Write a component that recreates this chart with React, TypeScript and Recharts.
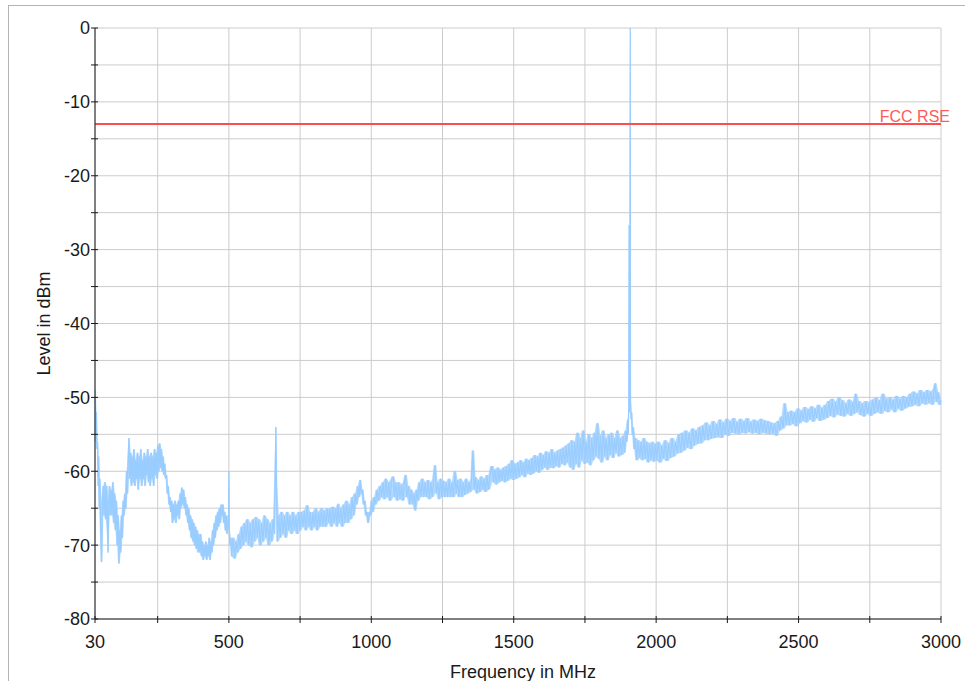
import { Area, CartesianGrid, ComposedChart, Line, ReferenceLine, XAxis, YAxis } from "recharts"

const FONT = '"Liberation Sans", Arial, sans-serif'
const TRACE = "#99ccff" // light blue
const LIMIT = "#ff4d4d"
const GRID = "#cccccc"
const INK = "#1a1a1a"

const X_TICKS = [30, 250, 500, 750, 1000, 1250, 1500, 1750, 2000, 2250, 2500, 2750, 3000]
const X_LABELS = [30, 500, 1000, 1500, 2000, 2500, 3000]
const Y_TICKS = [-80, -75, -70, -65, -60, -55, -50, -45, -40, -35, -30, -25, -20, -15, -10, -5, 0]
const Y_LABELS = [-80, -70, -60, -50, -40, -30, -20, -10, 0]

const FCC_RSE_NAME = "FCC RSE"
const FCC_RSE_LEVEL = -13

// [MHz, dBm], segment by segment
const TRACE_30_510: [number, number][] = [
  [30, -56], [31, -49], [33, -55], [35, -52], [37, -57], [39, -56], [41, -62], [43, -58], [45, -65], [47, -61],
  [50, -68], [53, -72.3], [56, -64], [59, -62], [62, -66], [65, -61.5], [68, -66.5], [71, -62], [74, -68], [76, -71],
  [78, -64], [81, -62], [84, -66], [87, -62.5], [90, -66], [93, -61.5], [96, -67], [99, -63], [102, -68], [105, -64],
  [108, -70], [111, -66], [114, -72.5], [117, -68], [120, -71], [123, -66], [126, -69], [129, -64], [132, -66], [135, -63],
  [138, -65], [141, -60], [144, -63], [147, -58], [149, -55.5], [152, -61], [155, -57.5], [158, -62], [161, -58], [164, -61.5],
  [167, -57], [170, -62], [173, -58.5], [176, -61], [179, -57.5], [182, -62.5], [185, -58], [188, -61], [191, -57], [194, -62],
  [197, -58.5], [200, -61], [203, -57.5], [206, -62], [209, -58], [212, -60.5], [215, -57], [218, -61.5], [221, -58], [224, -62],
  [227, -57.5], [230, -61], [233, -58], [236, -62], [239, -57], [242, -60.5], [245, -57.5], [248, -61], [251, -56.5], [254, -60],
  [257, -56.2], [260, -59.5], [263, -57], [266, -60], [269, -58], [272, -60.5], [275, -59], [278, -61], [281, -60.5], [284, -63],
  [287, -62], [290, -64.5], [293, -63.5], [296, -65.5], [299, -64], [302, -67], [305, -64.5], [308, -66.5], [311, -64], [314, -67],
  [317, -64.5], [320, -66], [323, -64], [326, -66.5], [329, -63], [332, -65], [335, -62.2], [338, -64.5], [341, -62.5], [344, -65],
  [347, -63.5], [350, -66], [353, -64.5], [356, -67], [359, -65], [362, -68], [365, -66], [368, -69], [371, -66.5], [374, -69.5],
  [377, -67], [380, -70], [383, -67.5], [386, -70.5], [389, -68], [392, -71], [395, -68.5], [398, -71], [401, -68.5], [404, -71.5],
  [407, -69.5], [410, -72], [413, -70], [416, -71.5], [419, -69.5], [422, -72], [425, -70], [428, -71.5], [431, -69], [434, -72],
  [437, -69.5], [440, -71], [443, -68], [446, -70], [449, -67], [452, -69], [455, -66], [458, -68], [461, -65.5], [464, -67.5],
  [467, -65], [470, -67], [473, -64.5], [476, -66], [479, -64.5], [482, -67], [485, -65.5], [488, -68], [491, -66], [494, -68.5],
  [497, -67], [499, -66], [500, -60], [501, -68], [504, -70], [507, -69],
]

const TRACE_510_1035: [number, number][] = [
  [510, -71.5], [515, -69], [520, -71.8], [525, -69.5], [530, -71], [535, -68.5], [540, -70.5], [545, -67.5], [550, -70], [555, -67],
  [560, -69.5], [565, -66.5], [570, -70], [575, -67], [580, -70.3], [585, -66.5], [590, -69.5], [595, -66.2], [600, -69], [605, -66.5],
  [610, -70], [615, -67], [620, -69.5], [625, -66], [630, -69], [635, -66.5], [640, -70], [645, -67], [650, -69.5], [655, -66.5],
  [660, -68.5], [663, -60], [665, -54], [667, -62], [670, -69.5], [675, -66], [680, -69], [685, -65.5], [690, -68.5], [695, -66],
  [700, -69], [705, -65.5], [710, -68], [715, -66], [720, -68.5], [725, -65.5], [730, -68], [735, -66], [740, -68.5], [745, -65.5],
  [750, -68], [755, -65.5], [760, -67.5], [765, -65.3], [770, -68], [775, -64.6], [780, -67.5], [785, -65.5], [790, -68], [795, -65.5],
  [800, -67.5], [805, -65], [810, -68], [815, -65.5], [820, -67.5], [825, -65], [830, -67.5], [835, -65.3], [840, -67.5], [845, -65],
  [850, -67], [855, -65], [860, -67.5], [865, -64.8], [870, -67], [875, -65], [880, -67.5], [883, -64.4], [888, -67], [893, -65],
  [898, -67.5], [903, -64.5], [908, -67], [913, -64], [918, -67], [923, -64.5], [928, -66.5], [933, -63.5], [938, -66], [943, -63],
  [948, -64.5], [953, -62], [957, -63.5], [961, -61.2], [965, -63], [969, -62.5], [973, -64.5], [977, -64], [981, -66], [985, -65.5],
  [989, -67], [993, -65.5], [997, -66], [1001, -64], [1005, -65.5], [1010, -63.5], [1015, -64.5], [1020, -62.5], [1025, -64], [1031, -62],
]

const TRACE_1035_1500: [number, number][] = [
  [1036, -63.5], [1041, -61.5], [1046, -63.8], [1051, -61], [1056, -63.5], [1061, -61.5], [1066, -64], [1071, -61.2], [1077, -60.7], [1081, -63.5],
  [1086, -61.5], [1091, -64], [1096, -61.5], [1101, -63.8], [1106, -61.8], [1111, -64], [1116, -61.5], [1120, -60.5], [1125, -63.5], [1130, -62],
  [1135, -64.5], [1140, -62.5], [1145, -64.5], [1150, -63], [1154, -65.3], [1159, -62.5], [1164, -64], [1169, -61.5], [1174, -63.5], [1179, -61],
  [1184, -63.5], [1189, -61.5], [1194, -63.5], [1199, -61.2], [1204, -63.8], [1209, -61.5], [1214, -63.5], [1219, -61], [1224, -59.2], [1228, -63],
  [1233, -61.5], [1238, -63.8], [1243, -61], [1248, -63.5], [1253, -61.3], [1258, -63.5], [1263, -61.5], [1268, -63.5], [1273, -61], [1278, -63.5],
  [1283, -61.5], [1288, -63.5], [1294, -60], [1298, -63], [1303, -61.2], [1308, -63.5], [1313, -61], [1318, -63.5], [1323, -61.5], [1328, -63.2],
  [1333, -61], [1338, -63], [1343, -61.5], [1348, -62.8], [1352, -61], [1357, -57.2], [1361, -62.5], [1366, -60.8], [1371, -63], [1376, -61.2],
  [1381, -62.8], [1386, -60.7], [1391, -62.5], [1396, -61], [1401, -62.8], [1406, -60.5], [1411, -62.5], [1417, -60.5], [1424, -59.3], [1429, -61.5],
  [1434, -59.8], [1439, -61.8], [1444, -59.5], [1449, -61.5], [1454, -59.8], [1459, -61.3], [1464, -59.5], [1469, -61.5], [1474, -59.3], [1479, -61.3],
  [1484, -59], [1489, -61], [1494, -58.5], [1499, -61.2],
]

const TRACE_1500_2000: [number, number][] = [
  [1504, -59], [1509, -61], [1514, -58.8], [1519, -60.8], [1524, -58.5], [1529, -60.5], [1534, -58.8], [1539, -60.8], [1544, -58.3], [1549, -60.3],
  [1554, -58.5], [1559, -60.5], [1564, -58.2], [1569, -60.3], [1574, -57.8], [1579, -60], [1584, -58], [1589, -60.2], [1594, -57.5], [1599, -59.8],
  [1604, -57.8], [1609, -59.5], [1614, -57.3], [1619, -59.8], [1624, -57.5], [1629, -59.5], [1634, -57], [1639, -59.6], [1644, -57.5], [1649, -59.3],
  [1654, -57.2], [1659, -59.5], [1664, -57], [1669, -59], [1674, -56.8], [1679, -59.2], [1684, -56.5], [1689, -58.8], [1694, -56.2], [1699, -59.5],
  [1704, -55.8], [1709, -59.8], [1714, -56], [1719, -59], [1724, -54.8], [1729, -59.5], [1734, -55.5], [1739, -58.5], [1744, -54.5], [1749, -59],
  [1754, -56], [1759, -58.8], [1764, -55], [1769, -59.2], [1774, -55.5], [1779, -58.5], [1784, -54.8], [1789, -58], [1794, -53.5], [1799, -58.3],
  [1804, -55.2], [1809, -58.8], [1814, -54.5], [1819, -58], [1824, -55.5], [1829, -58.5], [1834, -55], [1839, -57.8], [1844, -54.8], [1849, -58.2],
  [1854, -55.5], [1859, -57.5], [1864, -54.5], [1869, -58], [1874, -55.5], [1879, -57.8], [1884, -55.2], [1889, -57.5], [1893, -54.5], [1897, -56],
  [1900, -53], [1902, -55], [1904, -51.5], [1905, -26.7], [1906, -52], [1908, -50], [1909, 0], [1910, -50.5], [1912, -53], [1914, -52],
  [1916, -55], [1919, -54], [1923, -57], [1927, -55.5], [1932, -58.5], [1937, -55.8], [1942, -58.2], [1947, -56], [1952, -58.5], [1957, -55.5],
  [1962, -58.3], [1967, -56], [1972, -58.8], [1977, -56.2], [1982, -58.5], [1987, -56], [1992, -58.7], [1997, -56.3],
]

const TRACE_2000_3000: [number, number][] = [
  [2002, -58.5], [2008, -56], [2014, -58.8], [2020, -56.5], [2026, -58.3], [2032, -55.8], [2038, -58.6], [2044, -56.2], [2050, -58.2], [2056, -55.5],
  [2062, -58], [2068, -56], [2074, -57.6], [2080, -55], [2086, -57.5], [2092, -54.8], [2098, -57.2], [2104, -54.5], [2110, -56.8], [2116, -54.8],
  [2122, -57], [2128, -54.2], [2134, -56.5], [2140, -54.5], [2146, -56.3], [2152, -54], [2158, -56.2], [2164, -53.8], [2170, -55.8], [2176, -53.4],
  [2182, -55.8], [2188, -53.8], [2194, -55.6], [2200, -53.2], [2206, -55.5], [2212, -53.6], [2218, -55.4], [2224, -53], [2230, -55.5], [2236, -53.4],
  [2242, -55], [2248, -52.9], [2254, -55.2], [2260, -53.2], [2266, -54.8], [2272, -52.8], [2278, -54.9], [2284, -53.3], [2290, -55], [2296, -52.9],
  [2302, -54.8], [2308, -53.2], [2314, -54.9], [2320, -52.8], [2326, -54.7], [2332, -53.3], [2338, -54.9], [2344, -53], [2350, -54.8], [2356, -53.2],
  [2362, -55], [2368, -52.9], [2374, -54.8], [2380, -53.1], [2386, -54.9], [2392, -53.2], [2398, -55], [2404, -53.4], [2410, -54.9], [2416, -53.5],
  [2422, -55.2], [2428, -53.2], [2434, -54.5], [2440, -52.6], [2446, -54.2], [2452, -50.8], [2456, -53.8], [2462, -52], [2468, -53.8], [2474, -51.8],
  [2480, -53.6], [2486, -52], [2492, -53.9], [2498, -51.5], [2504, -53.5], [2510, -51.8], [2516, -53.2], [2522, -51.3], [2528, -53.4], [2534, -51.6],
  [2540, -53], [2546, -51.2], [2552, -53.3], [2558, -51.5], [2564, -52.8], [2570, -51], [2576, -53.2], [2582, -51.4], [2588, -53], [2594, -51],
  [2600, -52.8], [2606, -50.5], [2612, -52.5], [2618, -50.2], [2624, -52.7], [2630, -50.6], [2636, -52.3], [2642, -50], [2648, -52.5], [2654, -50.4],
  [2660, -52.6], [2666, -50.8], [2672, -52.2], [2678, -50.3], [2684, -52.5], [2690, -50.6], [2696, -52.2], [2700, -49.5], [2706, -52], [2712, -50.5],
  [2718, -52.4], [2724, -50.8], [2730, -52.6], [2736, -50.5], [2742, -52.2], [2748, -50.7], [2754, -52.5], [2760, -50.3], [2766, -52.2], [2772, -50],
  [2778, -52], [2784, -50.4], [2790, -52.2], [2797, -49.5], [2802, -51.8], [2808, -50.2], [2814, -52], [2820, -50], [2826, -51.6], [2832, -50.3],
  [2838, -52], [2844, -49.8], [2850, -51.5], [2856, -50.2], [2862, -51.8], [2868, -49.8], [2874, -51.5], [2880, -50], [2886, -51.3], [2892, -49.5],
  [2898, -51.2], [2904, -49.2], [2910, -51], [2916, -49.5], [2922, -51.2], [2928, -49], [2934, -50.8], [2940, -49.3], [2946, -51], [2952, -49],
  [2958, -50.8], [2964, -49.2], [2970, -51], [2976, -48.9], [2980, -48.1], [2984, -50.6], [2990, -49.3], [2995, -51], [3000, -50.4],
]

const points = [...TRACE_30_510, ...TRACE_510_1035, ...TRACE_1035_1500, ...TRACE_1500_2000, ...TRACE_2000_3000]

// band = spread of each reading and its neighbours, so the noise reads as a filled ribbon
const data = points.map(([f, level], i) => {
  const near = [points[i - 1]?.[1], level, points[i + 1]?.[1]].filter((v) => v !== undefined) as number[]
  return { f, level, band: [Math.min(...near), Math.max(...near)] }
})

const textProps = { fontFamily: FONT, fill: INK }

// ticks cross the axis line, labels only on the major values
function XTick({ x, y, payload }: any) {
  const v = payload.value
  return (
    <g>
      <line x1={x} x2={x} y1={y - 3} y2={y + 4} stroke={INK} />
      {X_LABELS.includes(v) && (
        <text x={x} y={y + 16} dy="0.71em" textAnchor="middle" fontSize={18} {...textProps}>
          {v}
        </text>
      )}
    </g>
  )
}

function YTick({ x, y, payload }: any) {
  const v = payload.value
  return (
    <g>
      <line x1={x - 4} x2={x + 3} y1={y} y2={y} stroke={INK} />
      {Y_LABELS.includes(v) && (
        <text x={x - 5} y={y} dy="0.355em" textAnchor="end" fontSize={18} {...textProps}>
          {v}
        </text>
      )}
    </g>
  )
}

const xTitle = ({ viewBox }: any) => (
  <text x={viewBox.x + viewBox.width / 2 + 5} y={viewBox.y + 46} dy="0.71em" textAnchor="middle" fontSize={18} {...textProps}>
    Frequency in MHz
  </text>
)

const yTitle = ({ viewBox }: any) => {
  const cx = viewBox.x + 9
  const cy = viewBox.y + viewBox.height / 2
  return (
    <text x={cx} y={cy} dy="0.355em" textAnchor="middle" fontSize={18} transform={`rotate(-90 ${cx} ${cy})`} {...textProps}>
      Level in dBm
    </text>
  )
}

const limitLabel = ({ viewBox }: any) => (
  <text x={viewBox.x + viewBox.width + 9} y={viewBox.y - 2} textAnchor="end" fontSize={16} fontFamily={FONT} fill="#ff5a5a">
    {FCC_RSE_NAME}
  </text>
)

export default function App() {
  return (
    <div
      style={{
        position: "absolute",
        left: 8,
        top: 5,
        width: 957,
        height: 676,
        boxSizing: "border-box",
        borderTop: "1px solid #b4b4b4",
        borderLeft: "1px solid #b4b4b4",
        overflow: "hidden",
        background: "#fff",
      }}
    >
      <ComposedChart width={956} height={700} data={data} margin={{ top: 22, right: 24, left: 26, bottom: 47 }}>
        <CartesianGrid stroke={GRID} />
        <XAxis
          dataKey="f"
          type="number"
          domain={[30, 3000]}
          ticks={X_TICKS}
          interval={0}
          height={40}
          tickSize={0}
          tickMargin={0}
          tickLine={false}
          axisLine={{ stroke: INK }}
          tick={(p: any) => <XTick {...p} />}
          label={xTitle}
        />
        <YAxis
          type="number"
          domain={[-80, 0]}
          allowDataOverflow
          ticks={Y_TICKS}
          interval={0}
          width={60}
          tickSize={0}
          tickMargin={0}
          tickLine={false}
          axisLine={{ stroke: INK }}
          tick={(p: any) => <YTick {...p} />}
          label={yTitle}
        />
        <Area dataKey="band" type="linear" stroke="none" fill={TRACE} fillOpacity={0.75} isAnimationActive={false} />
        <Line dataKey="level" type="linear" stroke={TRACE} strokeWidth={1.2} dot={false} isAnimationActive={false} />
        <ReferenceLine y={FCC_RSE_LEVEL} stroke={LIMIT} strokeWidth={2} label={limitLabel} />
      </ComposedChart>
    </div>
  )
}
